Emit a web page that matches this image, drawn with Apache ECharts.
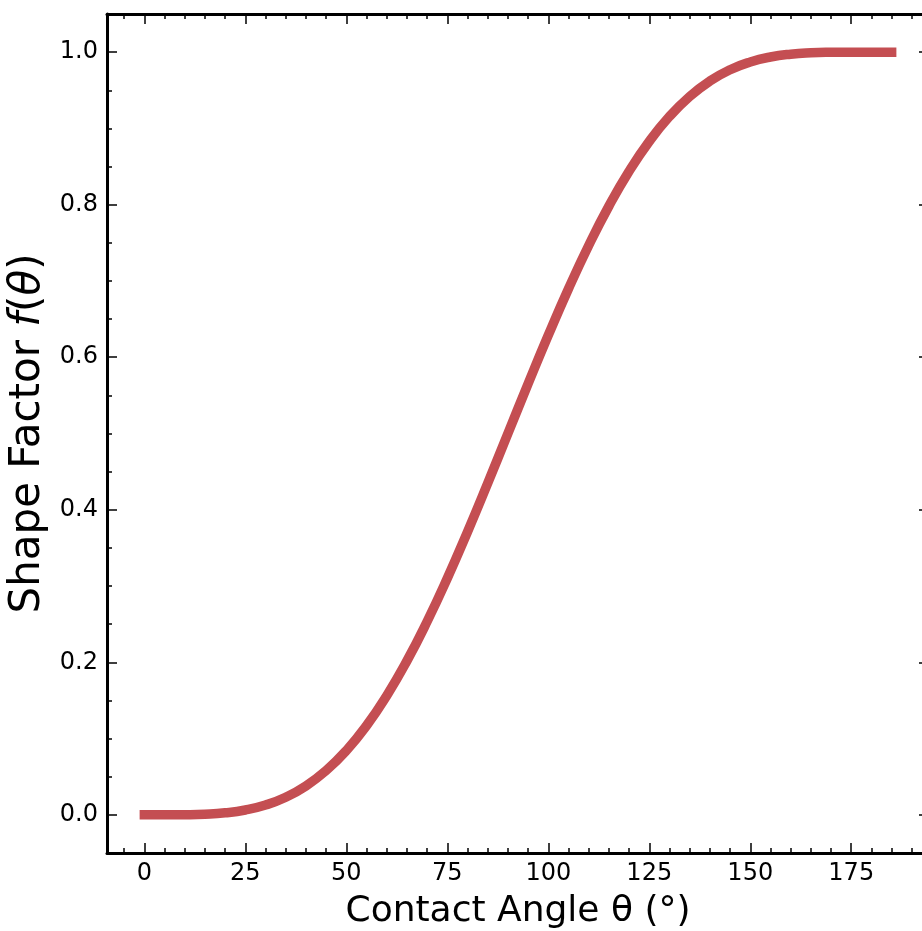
<!DOCTYPE html>
<html>
<head>
<meta charset="utf-8">
<script src="https://cdn.jsdelivr.net/npm/echarts@6/dist/echarts.min.js"></script>
<style>html,body{margin:0;padding:0;background:#fff}#c{width:922px;height:931px}</style>
</head>
<body>
<div id="c"></div>
<script>
// Contact angle (degrees)
const angles = [0,5,10,15,20,25,30,35,40,45,50,55,60,65,70,75,80,85,90,95,100,105,110,115,120,125,130,135,140,145,150,155,160,165,170,175,180,185];
// Shape factor f(theta)
const shapeFactor = [0.0000,0.0000,0.0002,0.0009,0.0027,0.0064,0.0129,0.0231,0.0379,0.0581,0.0843,0.1170,0.1563,0.2019,0.2535,0.3102,0.3711,0.4348,0.5000,0.5652,0.6289,0.6898,0.7465,0.7981,0.8438,0.8830,0.9157,0.9419,0.9621,0.9770,0.9871,0.9936,0.9973,0.9991,0.9998,1.0000,1.0000,1.0000];
const xMajor = [0,25,50,75,100,125,150,175];
const xMinor = [-5,5,10,15,20,30,35,40,45,55,60,65,70,80,85,90,95,105,110,115,120,130,135,140,145,155,160,165,170,180,185,190];
const yMajor = [0.0,0.2,0.4,0.6,0.8,1.0];
const yMinor = [0.05,0.1,0.15,0.25,0.3,0.35,0.45,0.5,0.55,0.65,0.7,0.75,0.85,0.9,0.95];
const xLabelText = 'Contact Angle θ (°)';

const FONT = 'DejaVu Sans';
const X_MIN = -9.25, X_MAX = 194.25, Y_MIN = -0.05, Y_MAX = 1.05;

function xAx(pos, vals, len, showLine, showLabel, extra) {
  return Object.assign({
    type: 'value', position: pos, min: X_MIN, max: X_MAX,
    axisLine: { show: showLine, onZero: false, lineStyle: { color: '#000', width: 3 } },
    axisTick: { show: true, inside: true, length: len, customValues: vals, lineStyle: { color: '#000', width: 1.5 } },
    axisLabel: showLabel ? { show: true, customValues: vals, margin: 9, fontFamily: FONT, fontSize: 24, color: '#000', formatter: v => String(v) } : { show: false },
    splitLine: { show: false }
  }, extra || {});
}
function yAx(pos, vals, len, showLine, showLabel, extra) {
  return Object.assign({
    type: 'value', position: pos, min: Y_MIN, max: Y_MAX,
    axisLine: { show: showLine, onZero: false, lineStyle: { color: '#000', width: 3 } },
    axisTick: { show: true, inside: true, length: len, customValues: vals, lineStyle: { color: '#000', width: 1.5 } },
    axisLabel: showLabel ? { show: true, customValues: vals, margin: 9, fontFamily: FONT, fontSize: 24, color: '#000', formatter: v => v.toFixed(1) } : { show: false },
    splitLine: { show: false }
  }, extra || {});
}

const chart = echarts.init(document.getElementById('c'), null, { renderer: 'canvas' });
chart.setOption({
  backgroundColor: '#fff',
  animation: false,
  grid: { left: 107, top: 14, width: 822, height: 839, containLabel: false, outerBoundsMode: 'none' },
  xAxis: [
    xAx('bottom', xMajor, 10, true, true, {
      name: xLabelText, nameLocation: 'middle', nameGap: 41,
      nameTextStyle: { fontFamily: FONT, fontSize: 36, color: '#000' }
    }),
    xAx('bottom', xMinor, 5, false, false),
    xAx('top', xMajor, 10, true, false),
    xAx('top', xMinor, 5, false, false)
  ],
  yAxis: [
    yAx('left', yMajor, 10, true, true, {
      name: '{n|Shape Factor }{i|f}{n|(}{i|θ}{n|)}', nameLocation: 'middle', nameGap: 53, nameRotate: 90,
      nameTextStyle: {
        fontFamily: FONT, fontSize: 42, color: '#000',
        rich: {
          n: { fontFamily: FONT, fontSize: 42, color: '#000' },
          i: { fontFamily: FONT, fontSize: 42, fontStyle: 'italic', color: '#000' }
        }
      }
    }),
    yAx('left', yMinor, 5, false, false),
    yAx('right', yMajor, 10, true, false),
    yAx('right', yMinor, 5, false, false)
  ],
  series: [{
    type: 'line',
    xAxisIndex: 0, yAxisIndex: 0,
    data: angles.map((a, i) => [a, shapeFactor[i]]),
    smooth: 0.5,
    showSymbol: false,
    symbol: 'none',
    lineStyle: { color: '#C44E52', width: 9.5, cap: 'square', join: 'round' },
    clip: false
  }]
});
</script>
</body>
</html>
